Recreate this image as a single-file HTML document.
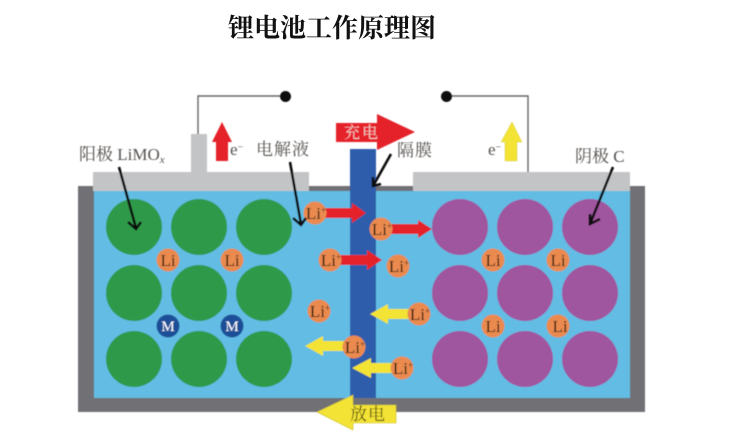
<!DOCTYPE html>
<html><head><meta charset="utf-8">
<style>
html,body{margin:0;padding:0;background:#fff;width:736px;height:440px;overflow:hidden}
svg{display:block;position:absolute;left:0;top:0}
.s{font-family:"Liberation Serif","Noto Serif CJK SC",serif}
.g{filter:url(#b)}
</style></head><body>
<svg width="736" height="440" viewBox="0 0 736 440" xmlns="http://www.w3.org/2000/svg">
<defs>
<filter id="b" x="-5%" y="-5%" width="110%" height="110%"><feGaussianBlur stdDeviation="0.55"/></filter>
<g id="li"><text class="s" font-size="17" fill="#2e1a08" text-anchor="middle" y="6">Li<tspan font-size="9" dy="-6">+</tspan></text></g>
</defs>
<text class="s" x="228" y="37" font-size="26" font-weight="700" fill="#111" textLength="208">锂电池工作原理图</text>
<g class="g">
<path d="M198 134V96H285M446 96H528V172" fill="none" stroke="#666" stroke-width="1.4"/>
<circle cx="285.500" cy="96.500" r="5.500" fill="#111"/>
<circle cx="446.500" cy="96.500" r="5.500" fill="#111"/>
<rect x="78" y="186" width="567" height="226" fill="#707074"/>
<rect x="94" y="191" width="536" height="207" fill="#62bce4"/>
<path d="M93 172H191V134H207V172H309V191H93Z" fill="#c3c4c6"/>
<rect x="413" y="172" width="217" height="19" fill="#c3c4c6"/>
<rect x="350" y="149" width="26" height="249" fill="#2f5dab"/>
<g fill="#2f9a4a">
<circle cx="134" cy="227" r="28"/><circle cx="199" cy="227" r="28"/><circle cx="264" cy="227" r="28"/>
<circle cx="134" cy="293" r="28"/><circle cx="199" cy="293" r="28"/><circle cx="264" cy="293" r="28"/>
<circle cx="134" cy="359" r="28"/><circle cx="199" cy="359" r="28"/><circle cx="264" cy="359" r="28"/>
</g>
<g fill="#a0559f">
<circle cx="460" cy="227" r="28"/><circle cx="525" cy="227" r="28"/><circle cx="590" cy="227" r="28"/>
<circle cx="460" cy="293" r="28"/><circle cx="525" cy="293" r="28"/><circle cx="590" cy="293" r="28"/>
<circle cx="460" cy="359" r="28"/><circle cx="525" cy="359" r="28"/><circle cx="590" cy="359" r="28"/>
</g>
<g fill="#e5202a">
<path d="M216 161V142H212L222 122L232 142H228V161Z"/>
<path d="M336 123H377V114L415 132L377 150V142H336Z"/>
<path d="M325 208H352V203L366 213L352 223V218H325Z"/>
<path d="M391 224H418V220L432 229L418 238V234H391Z"/>
<path d="M340 255H367V250L382 260L367 270V265H340Z"/>
</g>
<g fill="#f3e336">
<path d="M505 161V142H501L512 122L522 142H517V161Z" stroke="#d8cf50" stroke-width=".5"/>
<path d="M410 309H388V304L370 314L388 324V319H410Z"/>
<path d="M345 341H323V336L305 346L323 356V351H345Z"/>
<path d="M393 363H371V358L352 368L371 378V373H393Z"/>
<path d="M396 405H353V395L317 412L353 430V423H396Z" stroke="#c9bd2a" stroke-width=".6"/>
</g>
<g fill="#ea8a50">
<circle cx="168" cy="260" r="11.500"/><circle cx="232" cy="260" r="11.500"/>
<circle cx="493" cy="260" r="11.500"/><circle cx="558" cy="260" r="11.500"/>
<circle cx="493" cy="326" r="11.500"/><circle cx="558" cy="326" r="11.500"/>
<circle cx="315" cy="213" r="11.500"/><circle cx="381" cy="229" r="11.500"/>
<circle cx="330" cy="260" r="11.500"/><circle cx="398" cy="266" r="11.500"/>
<circle cx="319" cy="311" r="11.500"/><circle cx="419" cy="314" r="11.500"/>
<circle cx="354" cy="347" r="11.500"/><circle cx="402" cy="368" r="11.500"/>
</g>
<circle cx="168" cy="326" r="11.500" fill="#1f4f98"/>
<circle cx="232" cy="326" r="11.500" fill="#1f4f98"/>
<g fill="none" stroke="#111" stroke-width="2.600">
<path d="M119 167L136 228M128 222L136 229L141 222"/>
<path d="M290 162L301 224M293 218L301 225L306 218"/>
<path d="M391 154L373 186M373 177L373 186L381 184"/>
<path d="M613 167L590 224M590 214L590 224L600 219"/>
</g>
<g class="s" fill="#2e1a08" font-size="17" text-anchor="middle">
<text x="168" y="266">Li</text><text x="232" y="266">Li</text>
<text x="493" y="266">Li</text><text x="558" y="266">Li</text>
<text x="493" y="332">Li</text><text x="560" y="332">Li</text>
</g>
<g class="s" fill="#fff" font-size="15" text-anchor="middle">
<text x="168" y="331">M</text><text x="232" y="331">M</text>
</g>
<use href="#li" x="316" y="213"/><use href="#li" x="382" y="229"/>
<use href="#li" x="331" y="260"/><use href="#li" x="399" y="266"/>
<use href="#li" x="320" y="311"/><use href="#li" x="420" y="314"/>
<use href="#li" x="355" y="347"/><use href="#li" x="403" y="368"/>
<g class="s" fill="#55514e" font-size="17">
<text x="79" y="160">阳极 LiMO<tspan font-size="11" dy="3" font-style="italic">x</tspan></text>
<text x="256" y="155" textLength="53">电解液</text>
<text x="397" y="156" textLength="35">隔膜</text>
<text x="575" y="162">阴极 C</text>
<text x="230" y="155" font-size="17">e<tspan font-size="10" dy="-5">−</tspan></text>
<text x="488" y="155" font-size="17">e<tspan font-size="10" dy="-5">−</tspan></text>
</g>
<text class="s" x="344" y="138" font-size="16" fill="#f4c9c4" textLength="34">充电</text>
<text class="s" x="350" y="420" font-size="17" fill="#4a4210" textLength="35">放电</text>
</g>
</svg>
</body></html>
